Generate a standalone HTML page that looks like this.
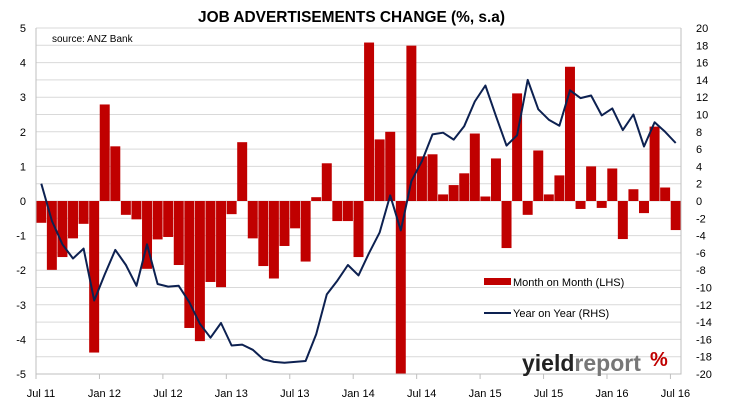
<!DOCTYPE html>
<html><head><meta charset="utf-8"><style>
html,body{margin:0;padding:0;background:#fff;}
svg{display:block;font-family:"Liberation Sans",sans-serif;}
</style></head><body>
<svg id="chart" width="730" height="400" viewBox="0 0 730 400">
<rect x="0" y="0" width="730" height="400" fill="#fff"/>
<text x="198" y="22" font-size="16" font-weight="bold" textLength="307" lengthAdjust="spacingAndGlyphs" fill="#000">JOB ADVERTISEMENTS CHANGE (%, s.a)</text>
<g id="grid"></g><g id="bars"></g><g id="line"></g><g id="axes"></g>
<text x="52" y="42" font-size="10" fill="#000">source: ANZ Bank</text>
<rect x="484" y="278" width="27" height="7" fill="#c00000"/>
<text x="513" y="286" font-size="11" fill="#000">Month on Month (LHS)</text>
<line x1="484" y1="313" x2="511" y2="313" stroke="#0d2151" stroke-width="2"/>
<text x="513" y="317" font-size="11" fill="#000">Year on Year (RHS)</text>
<g>
<text x="522" y="371" font-size="23" font-weight="bold" fill="#222">yield<tspan fill="#777">report</tspan></text>
<text x="650" y="366" font-size="20" font-weight="bold" fill="#c00000">%</text>
</g>
</svg>
<script>
const categories = ["Jul 11","Aug 11","Sep 11","Oct 11","Nov 11","Dec 11","Jan 12","Feb 12","Mar 12","Apr 12","May 12","Jun 12","Jul 12","Aug 12","Sep 12","Oct 12","Nov 12","Dec 12","Jan 13","Feb 13","Mar 13","Apr 13","May 13","Jun 13","Jul 13","Aug 13","Sep 13","Oct 13","Nov 13","Dec 13","Jan 14","Feb 14","Mar 14","Apr 14","May 14","Jun 14","Jul 14","Aug 14","Sep 14","Oct 14","Nov 14","Dec 14","Jan 15","Feb 15","Mar 15","Apr 15","May 15","Jun 15","Jul 15","Aug 15","Sep 15","Oct 15","Nov 15","Dec 15","Jan 16","Feb 16","Mar 16","Apr 16","May 16","Jun 16","Jul 16"];
const momValues = [-0.63,-1.99,-1.62,-1.08,-0.66,-4.38,2.79,1.58,-0.40,-0.53,-1.96,-1.11,-1.04,-1.85,-3.67,-4.05,-2.34,-2.49,-0.38,1.70,-1.08,-1.88,-2.24,-1.30,-0.79,-1.75,0.11,1.09,-0.58,-0.58,-1.62,4.58,1.78,2.0,-5.2,4.49,1.29,1.35,0.19,0.46,0.80,1.95,0.13,1.23,-1.36,3.11,-0.40,1.46,0.19,0.74,3.88,-0.23,1.0,-0.20,0.94,-1.10,0.34,-0.35,2.15,0.39,-0.84];
const yoyValues = [2.0,-2.3,-5.0,-6.65,-5.5,-11.5,-8.5,-5.65,-7.4,-9.8,-5.0,-9.6,-9.9,-9.8,-11.7,-14.2,-15.8,-14.1,-16.7,-16.6,-17.2,-18.3,-18.6,-18.7,-18.6,-18.5,-15.4,-10.8,-9.2,-7.4,-8.6,-6.0,-3.65,0.65,-3.4,2.3,4.6,7.7,7.9,7.1,8.65,11.5,13.35,9.8,6.4,7.6,14.0,10.6,9.4,8.7,12.8,11.9,12.2,9.9,10.7,8.2,10.0,6.3,9.1,8.0,6.7];
const leftTicks = [5,4,3,2,1,0,-1,-2,-3,-4,-5];
const rightTicks = [20,18,16,14,12,10,8,6,4,2,0,-2,-4,-6,-8,-10,-12,-14,-16,-18,-20];
const xTickLabels = ["Jul 11","Jan 12","Jul 12","Jan 13","Jul 13","Jan 14","Jul 14","Jan 15","Jul 15","Jan 16","Jul 16"];

const NS="http://www.w3.org/2000/svg";
const L=36,R=681,T=28,B=374;
const n=categories.length, cw=(R-L)/n;
const yL=v=>T+(5-Math.max(-5,Math.min(5,v)))/10*(B-T);
const yR=v=>T+(20-v)/40*(B-T);
const xC=i=>L+(i+0.5)*cw;
const xB=i=>L+i*cw;
function mk(tag,parent,attrs){const e=document.createElementNS(NS,tag);for(const k in attrs)e.setAttribute(k,attrs[k]);parent.appendChild(e);return e;}
const grid=document.getElementById('grid'),bars=document.getElementById('bars'),line=document.getElementById('line'),axes=document.getElementById('axes');
rightTicks.forEach(v=>{
  const y=yR(v);
  const g=mk('line',grid,{x1:L,x2:R,y1:y,y2:y,stroke:'#d9d9d9','stroke-width':1});
  
  
  const t=mk('text',axes,{x:R+15,y:y+4,'font-size':11,fill:'#000'});
  t.textContent=v;
  
  
});
leftTicks.forEach(v=>{
  const t=mk('text',axes,{x:L-10,y:yL(v)+4,'font-size':11,fill:'#000','text-anchor':'end'});
  t.textContent=v;
  
  
});
momValues.forEach((v,i)=>{
  const y0=yL(0),y1=yL(v);
  const r=mk('rect',bars,{x:xB(i)+0.3,y:Math.min(y0,y1),width:cw-0.6,height:Math.abs(y1-y0),fill:'#c00000'});
  
  
});
const pts=yoyValues.map((v,i)=>xC(i).toFixed(1)+','+yR(v).toFixed(1)).join(' ');
const pl=mk('polyline',line,{points:pts,fill:'none',stroke:'#0d2151','stroke-width':2,'stroke-linejoin':'round'});


const fr=mk('path',axes,{d:`M${L},${T}V${B}H${R}V${T}`,fill:'none',stroke:'#bfbfbf','stroke-width':1});


xTickLabels.forEach((lab,k)=>{
  const idx=categories.indexOf(lab);
  const x=xB(idx);
  const tk=mk('line',axes,{x1:x,x2:x,y1:B,y2:B+5,stroke:'#bfbfbf'});
  
  
  const t=mk('text',axes,{x:x+5,y:397,'font-size':11,fill:'#000','text-anchor':'middle'});
  t.textContent=lab;
  
  
});
</script>
</body></html>
